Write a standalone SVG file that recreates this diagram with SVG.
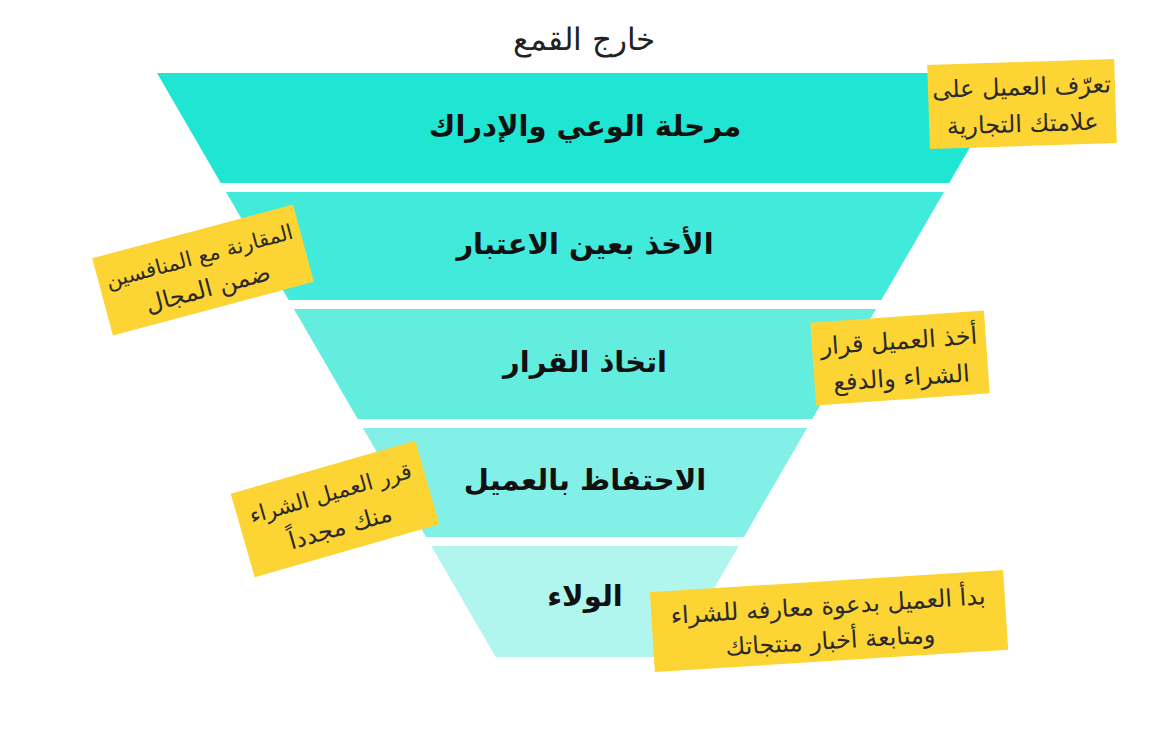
<svg xmlns="http://www.w3.org/2000/svg" width="1170" height="730" viewBox="0 0 1170 730">
<style>
.band-label{font-family:"DejaVu Sans","Noto Sans",sans-serif;font-weight:bold;font-size:29px;fill:#111;text-anchor:middle}
.note rect{fill:#fcd434}
.note text{font-family:"DejaVu Sans","Noto Sans",sans-serif;font-size:24px;fill:#2a2a2a;text-anchor:middle}
.note text.sm{font-size:21px}
.title{font-family:"DejaVu Sans","Noto Sans",sans-serif;font-size:31px;font-weight:300;fill:#222;text-anchor:middle}
</style>
<rect width="1170" height="730" fill="#ffffff"/>
<text class="title" x="584" y="50" direction="rtl">خارج القمع</text>
<g id="band1">
<polygon points="157,73 1013,73 949.2,183 220.8,183" fill="#1fe5d3"/>
<text class="band-label" x="585" y="136" direction="rtl">مرحلة الوعي والإدراك</text>
</g>
<g id="band2">
<polygon points="226,192 944,192 881.3,300 288.7,300" fill="#41eadb"/>
<text class="band-label" x="585" y="254" direction="rtl">الأخذ بعين الاعتبار</text>
</g>
<g id="band3">
<polygon points="293.9,309 876.1,309 812.3,419 357.7,419" fill="#62eddf"/>
<text class="band-label" x="585" y="372" direction="rtl">اتخاذ القرار</text>
</g>
<g id="band4">
<polygon points="362.9,428 807.1,428 743.9,537 426.1,537" fill="#82f0e6"/>
<text class="band-label" x="585" y="490" direction="rtl">الاحتفاظ بالعميل</text>
</g>
<g id="band5">
<polygon points="431.3,546 738.7,546 674.3,657 495.7,657" fill="#b0f5ee"/>
<text class="band-label" x="585" y="606" direction="rtl">الولاء</text>
</g>
<g id="note1" class="note" transform="translate(1022,104) rotate(-1.8)">
<rect x="-93.5" y="-42" width="187" height="84"/>
<text x="0" y="-9" direction="rtl">تعرّف العميل على</text>
<text x="0" y="28" direction="rtl">علامتك التجارية</text>
</g>
<g id="note2" class="note" transform="translate(203,270) rotate(-15)">
<rect x="-104" y="-40" width="208" height="80"/>
<text class="sm" x="0" y="-7" direction="rtl">المقارنة مع المنافسين</text>
<text x="0" y="27" direction="rtl">ضمن المجال</text>
</g>
<g id="note3" class="note" transform="translate(900,358) rotate(-4)">
<rect x="-87" y="-41.5" width="174" height="83"/>
<text x="0" y="-9" direction="rtl">أخذ العميل قرار</text>
<text x="0" y="28" direction="rtl">الشراء والدفع</text>
</g>
<g id="note4" class="note" transform="translate(335,509) rotate(-16)">
<rect x="-96" y="-43.5" width="192" height="87"/>
<text x="0" y="-9" direction="rtl" style="font-size:22px">قرر العميل الشراء</text>
<text x="0" y="27" direction="rtl">منك مجدداً</text>
</g>
<g id="note5" class="note" transform="translate(829,621) rotate(-3.6)">
<rect x="-177" y="-40" width="354" height="80"/>
<text x="0" y="-7" direction="rtl">بدأ العميل بدعوة معارفه للشراء</text>
<text x="0" y="28" direction="rtl">ومتابعة أخبار منتجاتك</text>
</g>
<g id="connectors"></g>
</svg>
